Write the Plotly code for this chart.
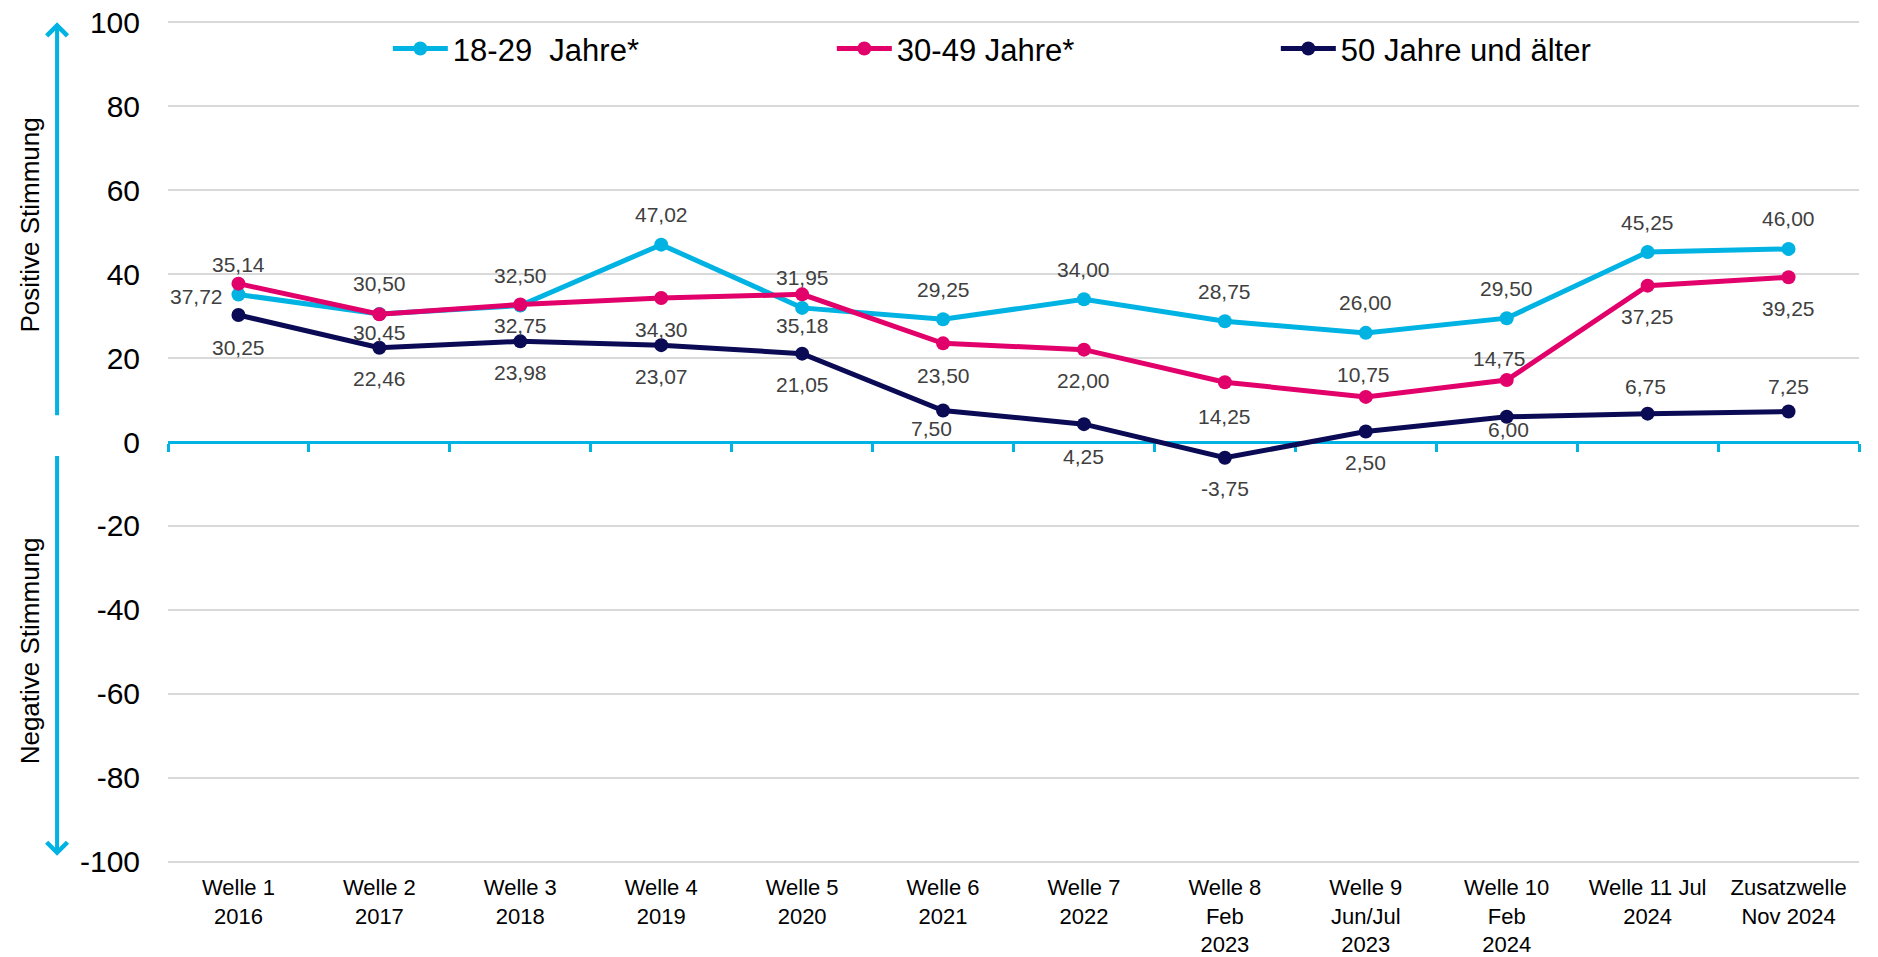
import plotly.graph_objects as go

categories = ["Welle 1<br>2016", "Welle 2<br>2017", "Welle 3<br>2018", "Welle 4<br>2019",
              "Welle 5<br>2020", "Welle 6<br>2021", "Welle 7<br>2022", "Welle 8<br>Feb<br>2023",
              "Welle 9<br>Jun/Jul<br>2023", "Welle 10<br>Feb<br>2024", "Welle 11 Jul<br>2024",
              "Zusatzwelle<br>Nov 2024"]

age_18_29 = [35.14, 30.50, 32.50, 47.02, 31.95, 29.25, 34.00, 28.75, 26.00, 29.50, 45.25, 46.00]
age_30_49 = [37.72, 30.45, 32.75, 34.30, 35.18, 23.50, 22.00, 14.25, 10.75, 14.75, 37.25, 39.25]
age_50_plus = [30.25, 22.46, 23.98, 23.07, 21.05, 7.50, 4.25, -3.75, 2.50, 6.00, 6.75, 7.25]

series_names = ["18-29\u00a0\u00a0Jahre*", "30-49 Jahre*", "50 Jahre und älter"]
y_ticks = [-100, -80, -60, -40, -20, 0, 20, 40, 60, 80, 100]

# label placement (pixel shifts) per series
lab_18_29_dx = [0] * 12
lab_18_29_dy = [30] * 12
lab_30_49_dx = [-42, 0, 0, 0, 0, 0, 0, 0, -2, -7, 0, 0]
lab_30_49_dy = [-13, -18, -21, -31, -31, -32, -31, -34, 22, 22, -31, -31]
lab_50_dx = [0, 0, 0, 0, 0, -12, 0, 0, 0, 2, -2, 0]
lab_50_dy = [-32, -31, -31, -31, -31, -18, -32, -31, -31, -13, 27, 25]

CYAN = "#00B3E3"
PINK = "#E2006A"
NAVY = "#0B0B55"
FONT = "Liberation Sans, Arial, sans-serif"

fig = go.Figure()
for name, vals, col in [(series_names[0], age_18_29, CYAN),
                        (series_names[1], age_30_49, PINK),
                        (series_names[2], age_50_plus, NAVY)]:
    fig.add_trace(go.Scatter(x=categories, y=vals, name=name, mode="lines+markers",
                             line=dict(color=col, width=5), marker=dict(color=col, size=14),
                             hoverinfo="skip"))

# empty trace so the zero-line axis (x2) is rendered
fig.add_trace(go.Scatter(x=[None], y=[None], xaxis="x2", yaxis="y", mode="lines",
                         showlegend=False, hoverinfo="skip"))

def fmt(v):
    return f"{v:.2f}".replace(".", ",")

annotations = []
for vals, dxs, dys in [(age_18_29, lab_18_29_dx, lab_18_29_dy),
                       (age_30_49, lab_30_49_dx, lab_30_49_dy),
                       (age_50_plus, lab_50_dx, lab_50_dy)]:
    for c, v, dx, dy in zip(categories, vals, dxs, dys):
        annotations.append(dict(x=c, y=v, xref="x", yref="y", text=fmt(v), showarrow=False,
                                xshift=dx, yshift=dy, xanchor="center", yanchor="middle",
                                font=dict(family=FONT, size=21, color="#404040")))

# axis titles
annotations.append(dict(x=-0.0816, y=0.757, xref="paper", yref="paper", text="Positive Stimmung",
                        textangle=-90, showarrow=False, xanchor="center", yanchor="middle",
                        font=dict(family=FONT, size=26, color="#000000")))
annotations.append(dict(x=-0.0816, y=0.2514, xref="paper", yref="paper", text="Negative Stimmung",
                        textangle=-90, showarrow=False, xanchor="center", yanchor="middle",
                        font=dict(family=FONT, size=26, color="#000000")))
# arrows
annotations.append(dict(x=-0.0656, y=100, xref="paper", yref="y", ax=0, ay=6, axref="pixel",
                        ayref="y", text="", showarrow=True, arrowhead=4, arrowwidth=4,
                        arrowsize=1, arrowcolor=CYAN))
annotations.append(dict(x=-0.0656, y=-98.6, xref="paper", yref="y", ax=0, ay=-3, axref="pixel",
                        ayref="y", text="", showarrow=True, arrowhead=4, arrowwidth=4,
                        arrowsize=1, arrowcolor=CYAN))

n = len(categories)
fig.update_layout(
    width=1878, height=957,
    margin=dict(l=160, r=27, t=13, b=102, autoexpand=False),
    paper_bgcolor="white", plot_bgcolor="white",
    font=dict(family=FONT, color="#000000"),
    showlegend=True,
    legend=dict(orientation="h", x=0.130, y=0.967, xanchor="left", yanchor="middle",
                bgcolor="rgba(0,0,0,0)", font=dict(family=FONT, size=31, color="#000000"),
                itemwidth=55, entrywidthmode="pixels", entrywidth=374, traceorder="normal"),
    xaxis=dict(type="category", categoryarray=categories, categoryorder="array",
               range=[-0.5, n - 0.5], showgrid=False, showline=False, zeroline=False,
               ticks="", tickfont=dict(family=FONT, size=22, color="#000000"),
               ticklabelstandoff=9, ticklabeloverflow="allow"),
    xaxis2=dict(overlaying="x", anchor="free", position=0.5, side="bottom", type="linear",
                range=[-0.5, n - 0.5], tickmode="array",
                tickvals=[i - 0.5 for i in range(n + 1)], showticklabels=False,
                ticks="outside", ticklen=8, tickwidth=3, tickcolor=CYAN, layer="below traces",
                showline=True, linecolor=CYAN, linewidth=3, showgrid=False, zeroline=False),
    yaxis=dict(range=[-100.3, 100.3], tickmode="array", tickvals=y_ticks,
               ticktext=[str(t) for t in y_ticks], showgrid=True, gridcolor="#D9D9D9",
               gridwidth=2, zeroline=False, showline=False, ticks="",
               tickfont=dict(family=FONT, size=30, color="#000000"), ticklabelstandoff=27,
               ticklabeloverflow="allow"),
    annotations=annotations,
)

fig.write_html("out.html")
